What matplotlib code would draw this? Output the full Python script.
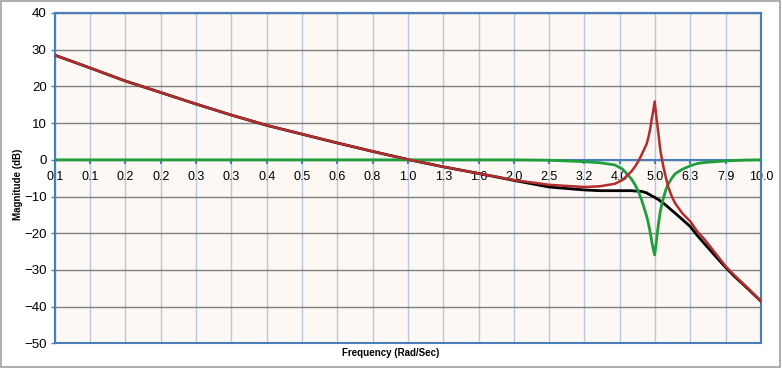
import matplotlib.pyplot as plt
from matplotlib.patches import Rectangle

plt.rcParams['font.family'] = ['Liberation Sans', 'DejaVu Sans']

# x axis category labels (log spaced, Excel style, one decimal)
tick_freq = [0.1, 0.126, 0.158, 0.2, 0.251, 0.316, 0.398, 0.501, 0.631, 0.794,
             1.0, 1.259, 1.585, 1.995, 2.512, 3.162, 3.981, 5.012, 6.31, 7.943, 10.0]
tick_labels = ['0.1', '0.1', '0.2', '0.2', '0.3', '0.3', '0.4', '0.5', '0.6', '0.8',
               '1.0', '1.3', '1.6', '2.0', '2.5', '3.2', '4.0', '5.0', '6.3', '7.9', '10.0']

# frequencies (rad/s)
freq = [0.1, 0.126, 0.158, 0.2, 0.251, 0.316, 0.398, 0.501, 0.631, 0.794,
        1.0, 1.259, 1.585, 1.995, 2.512, 3.162, 3.5, 3.86, 4.05, 4.2,
        4.3, 4.4, 4.5, 4.59, 4.67, 4.75, 4.8, 4.85, 4.9, 4.95,
        5.0, 5.05, 5.1, 5.14, 5.18, 5.24, 5.29, 5.37, 5.46, 5.58,
        5.71, 5.98, 6.31, 6.6, 6.94, 7.44, 7.943, 8.4, 8.81, 9.15,
        10.0]

# plant (red)
plant_db = [28.5, 25.0, 21.5, 18.3, 15.2, 12.2, 9.4, 7.0, 4.6, 2.3,
            0.1, -1.9, -3.7, -5.5, -6.8, -7.4, -7.2, -6.5, -5.5, -4.1,
            -3.1, -1.8, -0.3, 1.4, 2.9, 4.5, 6.2, 8.2, 10.9, 13.2,
            15.9, 12.0, 8.6, 6.0, 3.0, 0.2, -1.8, -4.6, -7.3, -9.8,
            -11.8, -14.5, -16.8, -19.5, -21.8, -25.5, -29.0, -31.4, -33.3, -34.8,
            -38.4]

# notch filter (green)
notch_db = [0.0, 0.0, 0.0, 0.0, 0.0, 0.0, 0.0, 0.0, 0.0, 0.0,
            0.0, 0.0, 0.0, 0.0, -0.1, -0.5, -0.8, -1.4, -2.5, -4.1,
            -5.3, -6.8, -8.7, -10.9, -13.2, -15.5, -17.4, -19.5, -22.0, -24.2,
            -25.9, -22.5, -19.0, -16.6, -14.3, -12.0, -10.5, -8.3, -6.6, -5.1,
            -3.8, -2.6, -1.6, -1.0, -0.7, -0.5, -0.3, -0.2, -0.1, -0.05,
            0.0]

# combined (black)
total_db = [28.5, 25.0, 21.5, 18.3, 15.2, 12.2, 9.4, 7.0, 4.6, 2.3,
            0.1, -1.9, -3.7, -5.6, -7.4, -8.2, -8.4, -8.4, -8.4, -8.4,
            -8.4, -8.5, -8.5, -8.6, -8.8, -9.0, -9.3, -9.5, -9.8, -10.0,
            -10.2, -10.5, -10.7, -10.9, -11.2, -11.5, -11.8, -12.3, -12.9, -13.7,
            -14.5, -16.2, -18.2, -20.6, -23.0, -26.3, -29.3, -31.7, -33.5, -35.0,
            -38.5]

blue = '#4a7ebb'

fig = plt.figure(figsize=(7.82, 3.68), dpi=100)
fig.patches.append(Rectangle((0.001, 0.002), 0.997, 0.995, transform=fig.transFigure,
                             fill=False, ec='#a0a0a0', lw=1.2))
ax = fig.add_axes([0.0703, 0.0668, 0.9028, 0.8979])
ax.set_facecolor('#fdf8f3')

ax.set_xscale('log')
ax.set_xlim(0.1, 10.0)
ax.set_ylim(-50, 40)
ax.set_yticks(range(-50, 41, 10))
ax.set_xticks(tick_freq)
ax.set_xticklabels(tick_labels)
ax.minorticks_off()

ax.grid(axis='y', color='#7f7f7f', lw=1.0)
ax.grid(axis='x', color='#b9c9dc', lw=1.0)
ax.set_axisbelow(True)

# x axis crosses at 0 dB
ax.spines['bottom'].set_position(('data', 0))
for s in ax.spines.values():
    s.set_color(blue)
    s.set_linewidth(1.5)
ax.add_patch(Rectangle((0, 0), 1, 1, transform=ax.transAxes, fill=False,
                       ec=blue, lw=1.5, clip_on=False, zorder=1))

ax.tick_params(axis='x', direction='out', length=3, color=blue, width=1.5,
               labelsize=9, pad=5)
ax.tick_params(axis='y', direction='out', length=3, color=blue, width=1,
               labelsize=9.5, pad=3)

ax.plot(freq, total_db, color='black', lw=2, zorder=3)
ax.plot(freq, notch_db, color='#1f9e3c', lw=2, zorder=4)
ax.plot(freq, plant_db, color='#b22e2e', lw=1.8, zorder=5)

fig.text(0.5, 0.04, 'Frequency (Rad/Sec)', ha='center', va='center',
         fontsize=7, fontweight='bold')
fig.text(0.023, 0.5, 'Magnitude (dB)', ha='center', va='center', rotation=90,
         fontsize=7, fontweight='bold')

fig.savefig('out.png', dpi=100)
